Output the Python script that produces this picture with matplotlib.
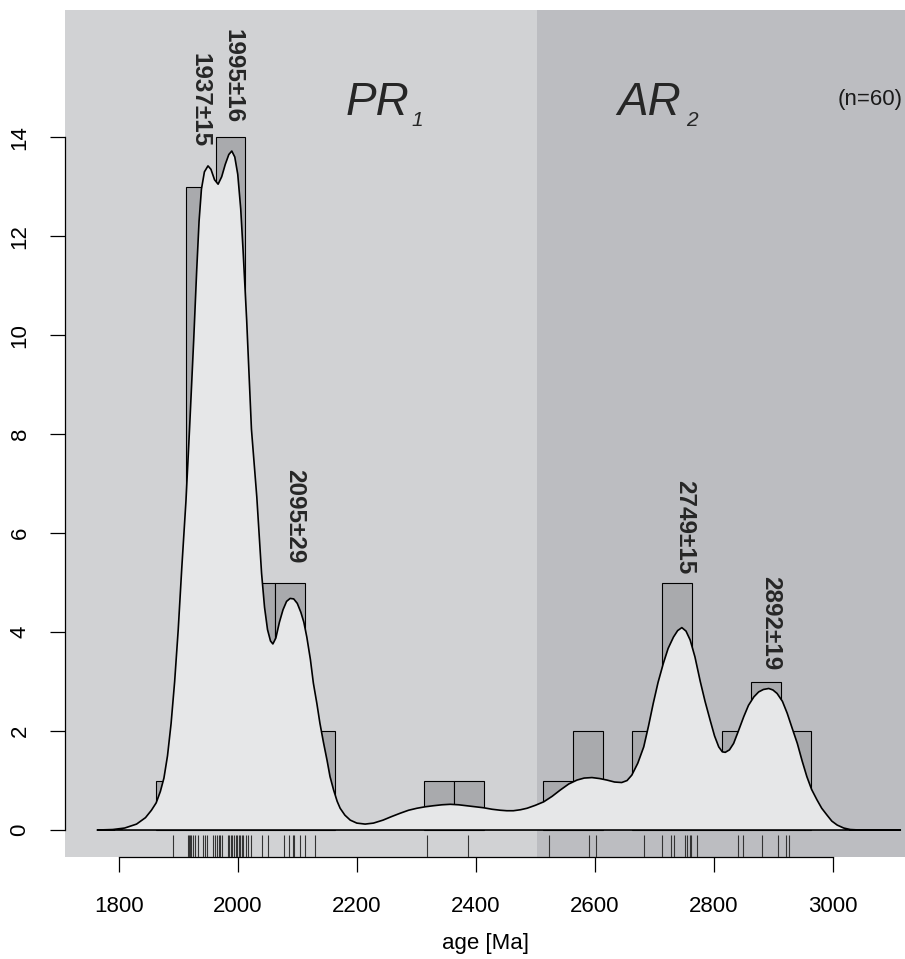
import matplotlib
matplotlib.use('Agg')
import matplotlib.pyplot as plt
import numpy as np

plt.rcParams['font.family'] = ['Liberation Sans', 'DejaVu Sans']

# ---------------- data ----------------
bin_start = 1863
bin_width = 50
bin_counts = [1, 13, 14, 5, 5, 2, 0, 0, 0, 1, 1, 0, 0, 1, 2, 0, 2, 5, 1, 2, 3, 2]

rug_ages = [1891, 1916, 1918, 1919, 1921, 1925, 1929, 1933, 1942, 1945, 1949,
            1958, 1961, 1965, 1968, 1970, 1973, 1984, 1986, 1988, 1990, 1994,
            1997, 1999, 2002, 2004, 2007, 2009, 2014, 2017, 2022, 2041, 2050,
            2077, 2086, 2092, 2095, 2104, 2113, 2130,
            2318, 2387, 2523, 2590, 2602, 2682, 2713, 2728, 2733, 2752, 2755,
            2759, 2762, 2772, 2840, 2849, 2881, 2907, 2921, 2926]

dens_age = [1764, 1790, 1810, 1830, 1845, 1855, 1863, 1870, 1876, 1882,
            1888, 1894, 1900, 1906, 1913, 1919, 1926, 1931, 1935, 1939,
            1944, 1950, 1955, 1961, 1967, 1973, 1979, 1985, 1990, 1995,
            2000, 2005, 2009, 2015, 2023, 2032, 2040, 2045, 2050, 2055,
            2059, 2064, 2070, 2076, 2082, 2088, 2094, 2100, 2106, 2111,
            2116, 2122, 2127, 2133, 2138, 2144, 2150, 2155, 2161, 2167,
            2172, 2180, 2189, 2200, 2214, 2228, 2244, 2258, 2273, 2287,
            2301, 2315, 2328, 2343, 2357, 2371, 2385, 2399, 2413, 2427,
            2441, 2452, 2463, 2475, 2486, 2500, 2514, 2528, 2542, 2556,
            2570, 2582, 2595, 2608, 2620, 2633, 2645, 2654, 2662, 2672,
            2682, 2690, 2698, 2706, 2715, 2723, 2732, 2739, 2746, 2753,
            2760, 2768, 2777, 2785, 2794, 2801, 2808, 2814, 2819, 2826,
            2833, 2841, 2850, 2858, 2867, 2875, 2883, 2892, 2899, 2906,
            2915, 2923, 2931, 2940, 2948, 2956, 2964, 2973, 2981, 2990,
            2998, 3007, 3018, 3029, 3045, 3063, 3113]
dens_val = [0.0, 0.01, 0.04, 0.12, 0.25, 0.4, 0.55, 0.78, 1.05, 1.5,
            2.15, 3.0, 4.05, 5.3, 6.65, 8.1, 9.9, 11.3, 12.3, 12.95,
            13.3, 13.42, 13.35, 13.14, 13.05, 13.2, 13.45, 13.65, 13.72, 13.6,
            13.25, 12.55, 11.7, 10.3, 8.1, 6.73, 5.19, 4.5, 4.05, 3.82,
            3.76, 3.88, 4.2, 4.45, 4.62, 4.68, 4.67, 4.58, 4.4, 4.2,
            3.9, 3.45, 2.97, 2.55, 2.16, 1.77, 1.41, 1.08, 0.81, 0.58,
            0.44, 0.3, 0.2, 0.14, 0.12, 0.14, 0.2, 0.27, 0.34, 0.4,
            0.44, 0.47, 0.49, 0.51, 0.52, 0.51, 0.49, 0.47, 0.45, 0.42,
            0.4, 0.39, 0.39, 0.41, 0.44, 0.5, 0.57, 0.68, 0.81, 0.93,
            1.01, 1.05, 1.06, 1.04, 1.01, 0.97, 0.96, 1.0, 1.11, 1.35,
            1.68, 2.1, 2.56, 2.98, 3.37, 3.67, 3.9, 4.03, 4.09, 4.02,
            3.84, 3.5, 3.0, 2.6, 2.2, 1.9, 1.68, 1.58, 1.57, 1.62,
            1.75, 2.0, 2.29, 2.52, 2.69, 2.79, 2.84, 2.86, 2.83, 2.76,
            2.6, 2.36, 2.07, 1.75, 1.4, 1.08, 0.82, 0.61, 0.44, 0.3,
            0.18, 0.1, 0.04, 0.01, 0.0, 0.0, 0.0]

peak_labels = ['1937±15', '1995±16', '2095±29', '2749±15', '2892±19']
label_x = [1937, 1992, 2095, 2751, 2895]
label_y = [14.75, 15.23, 6.35, 6.13, 4.18]

era_split = 2502
x_ticks = [1800, 2000, 2200, 2400, 2600, 2800, 3000]
y_ticks = [0, 2, 4, 6, 8, 10, 12, 14]
n_total = 60

# ---------------- colours ----------------
c_light = '#d1d2d4'
c_dark = '#bcbdc1'
c_hist = '#a9aaad'
c_dens = '#e6e7e8'

# ---------------- figure ----------------
W, H = 905, 959
fig = plt.figure(figsize=(W / 100, H / 100), dpi=100)
ax = fig.add_axes([65 / W, 102 / H, 840 / W, 847 / H])
xmin, xmax = 1709.8, 3120.9
ax.set_xlim(xmin, xmax)
ax.set_ylim(-0.545, 16.57)

ax.axvspan(xmin, era_split, color=c_light, lw=0, zorder=0)
ax.axvspan(era_split, xmax, color=c_dark, lw=0, zorder=0)

counts = np.array(bin_counts)
edges = bin_start + bin_width * np.arange(len(counts))
mask = counts > 0
ax.bar(edges[mask], counts[mask], width=bin_width, align='edge',
       color=c_hist, edgecolor='black', linewidth=0.8, zorder=2)

ax.fill(dens_age, dens_val, facecolor=c_dens, edgecolor='black',
        linewidth=1.2, joinstyle='round', zorder=3)

ax.vlines(rug_ages, -0.545, -0.11, color='#333333', linewidth=0.8, zorder=4)

for lab, lx, ly in zip(peak_labels, label_x, label_y):
    ax.text(lx, ly, lab, rotation=270, ha='center', va='center',
            fontsize=17.5, fontweight='bold', color='#262626', zorder=5)

ax.text(2181.8, 14.44, 'PR', fontsize=33, fontstyle='italic',
        color='#262626', ha='left', va='baseline')
ax.text(2291, 14.22, '1', fontsize=15, fontstyle='italic',
        color='#262626', ha='left', va='baseline')
ax.text(2637, 14.44, 'AR', fontsize=33, fontstyle='italic',
        color='#262626', ha='left', va='baseline')
ax.text(2754, 14.22, '2', fontsize=15, fontstyle='italic',
        color='#262626', ha='left', va='baseline')
ax.text(3117, 14.77, f'(n={n_total})', fontsize=16, color='#1a1a1a',
        ha='right', va='center')

# axes styling (R-like)
for s in ['top', 'right']:
    ax.spines[s].set_visible(False)
ax.spines['bottom'].set_bounds(x_ticks[0], x_ticks[-1])
ax.spines['left'].set_bounds(y_ticks[0], y_ticks[-1])
for s in ['bottom', 'left']:
    ax.spines[s].set_linewidth(0.9)
ax.set_xticks(x_ticks)
ax.set_yticks(y_ticks)
ax.tick_params(axis='x', direction='out', length=10.8, width=0.9,
               labelsize=16, pad=17, colors='black')
ax.tick_params(axis='y', direction='out', length=10.8, width=0.9,
               labelsize=16, pad=14, colors='black', labelrotation=90)
for t in ax.get_yticklabels():
    t.set_va('center')
ax.set_xlabel('age [Ma]', fontsize=16, labelpad=12)

fig.savefig('out.png', dpi=100)
